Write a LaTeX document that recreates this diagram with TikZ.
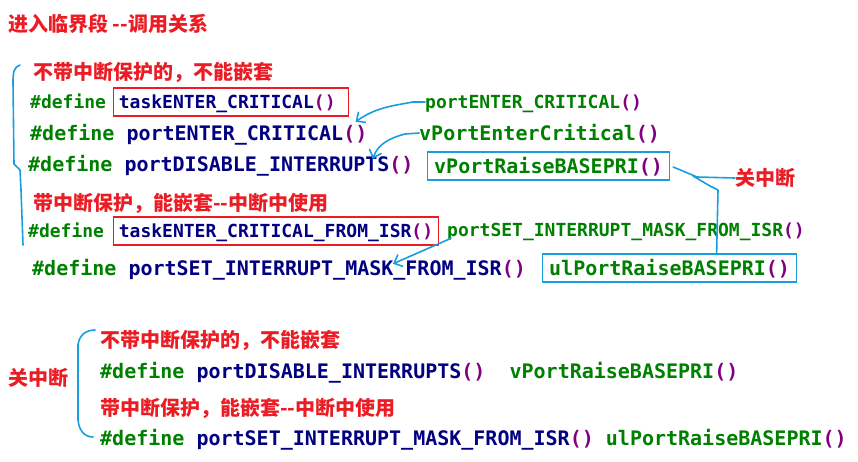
\documentclass[tikz,border=0pt]{standalone}
\usepackage{fontspec}
\setmonofont{DejaVu Sans Mono}
\newfontfamily\cjkfont{Noto Sans CJK SC}
\usetikzlibrary{arrows.meta,positioning}
\definecolor{kwgreen}{RGB}{0,128,0}
\definecolor{idnavy}{RGB}{0,0,128}
\definecolor{parpurple}{RGB}{128,0,128}
\definecolor{notered}{RGB}{235,28,36}
\definecolor{penblue}{RGB}{24,158,222}
\newcommand{\kwdef}{\textcolor{kwgreen}{\#define}}
\newcommand{\idn}[1]{\textcolor{idnavy}{#1}}
\newcommand{\fng}[1]{\textcolor{kwgreen}{#1}}
\newcommand{\prs}{\textcolor{parpurple}{()}}

\begin{document}
\begin{tikzpicture}[x=1pt, y=-1pt, every node/.style={inner sep=0pt, anchor=west}]
\tikzset{note/.style={font=\cjkfont\bfseries\fontsize{20}{24}\selectfont, text=notered}}
\tikzset{code/.style={font=\ttfamily\bfseries\fontsize{20}{24}\selectfont, text height=16pt, text depth=2pt}}
\tikzset{codesm/.style={font=\ttfamily\bfseries\fontsize{18}{22}\selectfont, text height=14.4pt, text depth=1.8pt}}
\tikzset{redbox/.style={draw=notered, line width=1.2pt, inner xsep=5pt, inner ysep=5.9pt, align=left}}
\tikzset{bluebox/.style={draw=penblue, line width=1.2pt, inner xsep=6.6pt, inner ysep=5pt}}
\tikzset{pen/.style={draw=penblue, line width=1.6pt, line cap=round, line join=round}}
\tikzset{penarrow/.style={pen, -{Straight Barb[length=7pt,width=13pt]}}}
\useasboundingbox (0,0) rectangle (858,461);
\node[note] (title) at (8,24) {进入临界段 --调用关系};
\node[note] (n1) at (33,72) {不带中断保护的，不能嵌套};
\node[codesm] (d1) at (30,102) {\kwdef};
\node[codesm, redbox, text width=225pt, right=7pt of d1] (t1) {\idn{taskENTER\_CRITICAL}\prs};
\node[code] (l2) at (30,133) {\kwdef\ \idn{portENTER\_CRITICAL}\prs};
\node[code] (l3) at (28,164) {\kwdef\ \idn{portDISABLE\_INTERRUPTS}\prs};
\node[note] (n2) at (33,203) {带中断保护，能嵌套--中断中使用};
\node[codesm] (d4) at (28,231) {\kwdef};
\node[codesm, redbox, right=9pt of d4] (t2) {\idn{taskENTER\_CRITICAL\_FROM\_ISR}\prs};
\node[code] (l5) at (32,268) {\kwdef\ \idn{portSET\_INTERRUPT\_MASK\_FROM\_ISR}\prs};
\node[codesm] (g1) at (425,102) {\fng{portENTER\_CRITICAL}\prs};
\node[code] (g2) at (419,133) {\fng{vPortEnterCritical}\prs};
\node[code, bluebox] (vbox) at (427,166) {\fng{vPortRaiseBASEPRI}\prs};
\node[codesm] (g3) at (447,230) {\fng{portSET\_INTERRUPT\_MASK\_FROM\_ISR}\prs};
\node[code, bluebox] (ubox) at (542,268) {\fng{ulPortRaiseBASEPRI}\prs};
\node[note] (k1) at (735,178) {关中断};
\node[note] (k2) at (8,378) {关中断};
\node[note] (n3) at (100,340) {不带中断保护的，不能嵌套};
\node[code] (l6) at (100,371) {\kwdef\ \idn{portDISABLE\_INTERRUPTS}\prs\ \ \fng{vPortRaiseBASEPRI}\prs};
\node[note] (n4) at (100,408) {带中断保护，能嵌套--中断中使用};
\node[code] (l7) at (100,438) {\kwdef\ \idn{portSET\_INTERRUPT\_MASK\_FROM\_ISR}\prs\ \fng{ulPortRaiseBASEPRI}\prs};
\coordinate (fk) at (697,177);
\draw[penarrow] (g1.west) -- ++(-12,0) to[out=190,in=35] ([xshift=-12pt,yshift=2pt]l2.north east);
\draw[penarrow] (g2.west) -- ++(-14,1) to[out=195,in=70] ([xshift=-41pt,yshift=-4pt]l3.north east);
\draw[penarrow] ([xshift=4pt]g3.south west) -- ([xshift=361pt,yshift=-5pt]l5.north west);
\draw[pen] (vbox.east) ++(3,1) -- (690,174) -- (fk) -- (k1.west);
\draw[pen] (693,176) -- (710,186) -- (718,190) -- ([xshift=47pt]ubox.north);
\draw[pen] (20,65) .. controls (14,67) and (13,72) .. (13,82) -- (14,164) -- (20,170) -- (21,190) -- (23,245);
\draw[pen] (95,330) .. controls (85,330) and (79,336) .. (78,345) -- (78,420) .. controls (79,430) and (84,437) .. (93,437);
\end{tikzpicture}
\end{document}
